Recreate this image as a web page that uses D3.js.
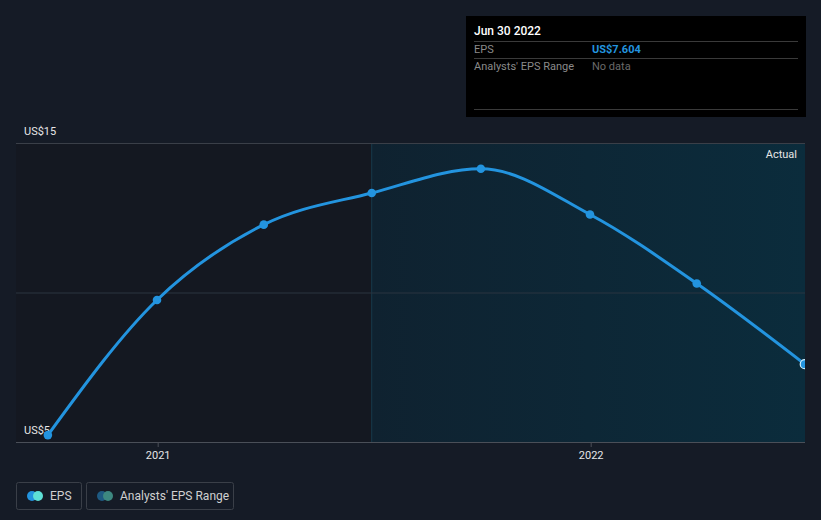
<!DOCTYPE html>
<html><head><meta charset="utf-8">
<script src="https://cdn.jsdelivr.net/npm/d3@7"></script>
<style>body{margin:0;background:#151b26;}svg{display:block;font-family:Roboto,"Open Sans",sans-serif;}</style>
</head><body><svg id="c" width="821" height="520"></svg>
<script>
const dates = ["2020-09-30","2020-12-31","2021-03-31","2021-06-30","2021-09-30","2021-12-31","2022-03-31","2022-06-30"];
const eps = [5.23, 9.75, 12.27, 13.33, 14.14, 12.61, 10.30, 7.604];
const yTicks = [5, 15];
const xTicks = ["2021-01-01","2022-01-01"];
const forecastStart = "2021-06-30";

(function(){
const parse = d3.timeParse("%Y-%m-%d");
const svg = d3.select("#c");
const pL = 16, pR = 805, pT = 143, pB = 442;
const x = d3.scaleTime().domain([parse("2020-12-31"), parse("2021-12-31")]).range([157, 590]);
const y = d3.scaleLinear().domain([5, 15]).range([pB, pT]);
const fx = x(parse(forecastStart));

const defs = svg.append("defs");
const g = defs.append("linearGradient").attr("id","sh").attr("x1","0").attr("x2","1");
g.append("stop").attr("offset","0").attr("stop-color","#0f2230");
g.append("stop").attr("offset","1").attr("stop-color","#0b2c3c");
defs.append("clipPath").attr("id","clip").append("rect").attr("x",pL).attr("y",0).attr("width",pR-pL).attr("height",pB+10);

svg.append("rect").attr("x",pL).attr("y",pT).attr("width",fx-pL).attr("height",pB-pT).attr("fill","#141821");
svg.append("rect").attr("x",fx).attr("y",pT).attr("width",pR-fx).attr("height",pB-pT).attr("fill","url(#sh)");
svg.append("line").attr("x1",fx).attr("x2",fx).attr("y1",pT).attr("y2",pB).attr("stroke","#173a4c").attr("stroke-width",1);

svg.selectAll(".grid").data([15,10]).enter().append("line")
  .attr("x1",pL).attr("x2",pR).attr("y1",d=>y(d)+0.5).attr("y2",d=>y(d)+0.5)
  .attr("stroke",d=>d===15?"#3a3f48":"#2a3440").attr("stroke-width",1);
svg.append("line").attr("x1",pL).attr("x2",pR).attr("y1",pB+0.5).attr("y2",pB+0.5).attr("stroke","#4a4f58").attr("stroke-width",1);

svg.selectAll(".yl").data(yTicks).enter().append("text")
  .attr("x",24).attr("y",d=>y(d)-8).attr("fill","#e6e6e6").attr("font-size",11).text(d=>"US$"+d);

xTicks.forEach(t=>{
  const xx = x(parse(t));
  svg.append("line").attr("x1",xx).attr("x2",xx).attr("y1",pB).attr("y2",pB+5).attr("stroke","#4a4f58");
  svg.append("text").attr("x",xx).attr("y",pB+17).attr("text-anchor","middle").attr("fill","#e6e6e6").attr("font-size",11).text(t.slice(0,4));
});

svg.append("text").attr("x",797).attr("y",158).attr("text-anchor","end").attr("fill","#e6e6e6").attr("font-size",11).text("Actual");

const data = dates.map((d,i)=>({d:parse(d),v:eps[i]}));
const cg = svg.append("g").attr("clip-path","url(#clip)");
cg.append("path").datum(data).attr("fill","none").attr("stroke","#2394df").attr("stroke-width",3)
  .attr("d", d3.line().x(d=>x(d.d)).y(d=>y(d.v)).curve(d3.curveMonotoneX));
cg.selectAll("circle").data(data).enter().append("circle")
  .attr("cx",d=>x(d.d)).attr("cy",d=>y(d.v)).attr("r",(d,i)=>i===data.length-1?4.5:4.3)
  .attr("fill","#2394df").attr("stroke",(d,i)=>i===data.length-1?"#cfefff":"none").attr("stroke-width",1.2);

const tt = svg.append("g");
tt.append("rect").attr("x",466).attr("y",16).attr("width",340).attr("height",101).attr("fill","#000");
tt.append("text").attr("x",474).attr("y",35).attr("fill","#fff").attr("font-size",12).attr("font-weight",500).text("Jun 30 2022");
[41,58,109].forEach(yy=>tt.append("line").attr("x1",474).attr("x2",798).attr("y1",yy+0.5).attr("y2",yy+0.5).attr("stroke","#3a3a3a"));
tt.append("text").attr("x",474).attr("y",53).attr("fill","#8a8a8a").attr("font-size",11).text("EPS");
tt.append("text").attr("x",592).attr("y",53).attr("fill","#2394df").attr("font-size",11).attr("font-weight",700).text("US$"+eps[eps.length-1].toFixed(3));
tt.append("text").attr("x",474).attr("y",70).attr("fill","#8a8a8a").attr("font-size",11).text("Analysts' EPS Range");
tt.append("text").attr("x",592).attr("y",70).attr("fill","#6a6a6a").attr("font-size",11).text("No data");

const leg = [{label:"EPS",x:16,w:65,c1:"#2394df",c2:"#5ee0d6"},{label:"Analysts' EPS Range",x:86,w:147,c1:"#1e5a82",c2:"#3d8880"}];
leg.forEach(l=>{
  svg.append("rect").attr("x",l.x+0.5).attr("y",482.5).attr("width",l.w).attr("height",27).attr("rx",2).attr("fill","none").attr("stroke","#3a3f48");
  svg.append("circle").attr("cx",l.x+16).attr("cy",496).attr("r",5).attr("fill",l.c1);
  svg.append("circle").attr("cx",l.x+22).attr("cy",496).attr("r",5).attr("fill",l.c2);
  svg.append("text").attr("x",l.x+34).attr("y",500).attr("fill","#d0d0d0").attr("font-size",12).text(l.label);
});
})();
</script></body></html>
